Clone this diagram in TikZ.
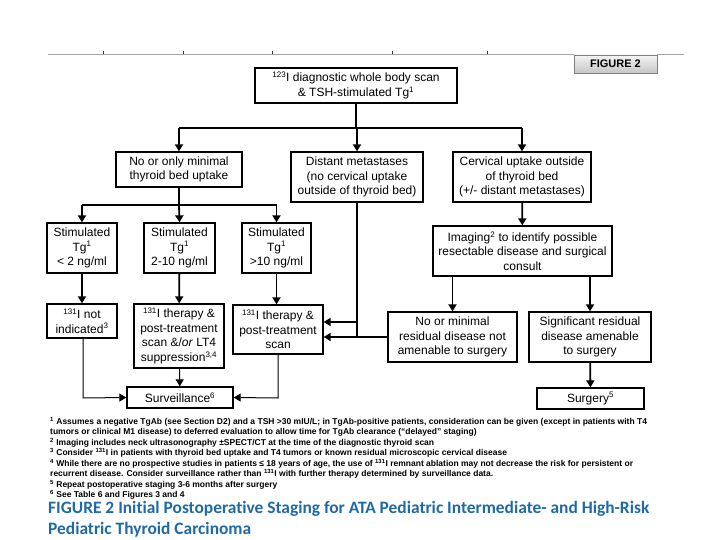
\documentclass[tikz,border=0pt]{standalone}
\usepackage{fontspec}
\setmainfont{Liberation Sans}
\newfontfamily\capfont[Ligatures=NoCommon]{Carlito}
\usetikzlibrary{arrows.meta}
\definecolor{captionblue}{RGB}{31,106,165}

\begin{document}
\begin{tikzpicture}[x=1pt,y=-1pt,
  box/.style={draw, line width=1.3pt, align=center, inner sep=1pt,
    font=\fontsize{12}{14.5}\selectfont},
  line/.style={line width=1.8pt},
  arr/.style={line width=1.8pt, -{Triangle[length=7pt,width=8pt]}},
  thinarr/.style={line width=1pt, -{Triangle[length=7pt,width=8pt]}},
  note/.style={anchor=base west, inner sep=0pt, font=\fontsize{8.5}{10}\bfseries},
  capline/.style={anchor=base west, inner sep=0pt, text=captionblue,
    font=\capfont\fontsize{17.4}{21}\bfseries}]
  \useasboundingbox (0,0) rectangle (720,540);

  % Page rule and ticks
  \draw[gray!70, line width=0.8pt] (48,54) -- (684,54);
  \foreach \tx in {103,183,272,392,487}
    \draw[black!80, line width=0.9pt] (\tx,51) -- (\tx,54);

  % Figure label
  \node[draw=gray, line width=0.8pt, top color=gray!8, bottom color=gray!45,
    minimum width=83pt, minimum height=18pt, inner sep=0pt,
    font=\fontsize{11}{12}\bfseries] (figlabel) at (615.5,64) {FIGURE 2};

  % First row
  \node[box, minimum width=202pt, minimum height=35pt] (wbs) at (356,85.5)
    {\textsuperscript{123}I diagnostic whole body scan\\ \& TSH-stimulated Tg\textsuperscript{1}};
  \node[box, minimum width=126pt, minimum height=35pt] (bedup) at (179,169.5)
    {No or only minimal\\ thyroid bed uptake};
  \node[box, minimum width=132pt, minimum height=50pt] (distant) at (357,177)
    {Distant metastases\\ (no cervical uptake\\ outside of thyroid bed)};
  \node[box, minimum width=138pt, minimum height=50pt] (cervical) at (522,177)
    {Cervical uptake outside\\ of thyroid bed\\ (+/- distant metastases)};

  % Stimulated Tg
  \node[box, minimum width=70pt, minimum height=50pt] (tglow) at (82,248)
    {Stimulated\\ Tg\textsuperscript{1}\\ {\textless} 2 ng/ml};
  \node[box, minimum width=71pt, minimum height=50pt] (tgmid) at (179.5,248)
    {Stimulated\\ Tg\textsuperscript{1}\\ 2-10 ng/ml};
  \node[box, minimum width=69pt, minimum height=50pt] (tghigh) at (276.5,248)
    {Stimulated\\ Tg\textsuperscript{1}\\ {\textgreater}10 ng/ml};

  % Therapy
  \node[box, minimum width=70pt, minimum height=34pt] (notind) at (82,321)
    {\textsuperscript{131}I not\\ indicated\textsuperscript{3}};
  \node[box, minimum width=90pt, minimum height=64pt] (thermid) at (179,336)
    {\textsuperscript{131}I therapy \&\\ post-treatment\\ scan \&/\textit{or} LT4\\ suppression\textsuperscript{3,4}};
  \node[box, minimum width=90pt, minimum height=49pt] (therhigh) at (278,329.5)
    {\textsuperscript{131}I therapy \&\\ post-treatment\\ scan};
  \node[box, minimum width=106pt, minimum height=21pt] (surv) at (180,397.5)
    {Surveillance\textsuperscript{6}};

  % Cervical branch
  \node[box, minimum width=179pt, minimum height=50pt] (imaging) at (522.5,251)
    {Imaging\textsuperscript{2} to identify possible\\ resectable disease and surgical\\ consult};
  \node[box, minimum width=129pt, minimum height=50pt] (resid) at (452.5,337)
    {No or minimal\\ residual disease not\\ amenable to surgery};
  \node[box, minimum width=122pt, minimum height=50pt] (signif) at (590,337)
    {Significant residual\\ disease amenable\\ to surgery};
  \node[box, minimum width=107pt, minimum height=21pt] (surgery) at (590.5,398.5)
    {Surgery\textsuperscript{5}};

  % Junctions
  \coordinate (busA) at (357,128);
  \coordinate (busB) at (179,205);
  \coordinate (joinC) at (357,322);
  \coordinate (survlow) at (83,398);
  \coordinate (survhigh) at (278,398);

  % Connectors from the scan
  \draw[line] (wbs.south) -- (wbs.south |- busA);
  \draw[line] (bedup.north |- busA) -- (cervical.north |- busA);
  \draw[arr] (bedup.north |- busA) -- (bedup.north);
  \draw[arr] (busA) -- (distant.north);
  \draw[arr] (cervical.north |- busA) -- (cervical.north);

  % Thyroid bed uptake
  \draw[line] (bedup.south) -- (busB);
  \draw[line] (tglow.north |- busB) -- (tghigh.north |- busB);
  \draw[arr] (tglow.north |- busB) -- (tglow.north);
  \draw[arr] (busB) -- (tgmid.north);
  \draw[arr] (tghigh.north |- busB) -- (tghigh.north);
  \draw[arr] (tglow) -- (notind);
  \draw[arr] (tgmid) -- (thermid);
  \draw[arr] (tghigh.south) -- (tghigh.south |- therhigh.north);

  % To surveillance
  \draw[thinarr] (notind.south -| survlow) -- (survlow) -- (surv.west);
  \draw[thinarr] (thermid) -- (surv);
  \draw[thinarr] (therhigh.south) -- (survhigh) -- (surv.east);

  % Distant metastases and residual disease
  \draw[line] (distant.south) -- (distant.south |- resid.west);
  \draw[arr] (joinC) -- (joinC -| therhigh.east);
  \draw[arr] (resid.west) -- (resid.west -| therhigh.east);

  % Cervical uptake
  \draw[arr] (cervical) -- (imaging);
  \draw[arr] (imaging.south -| resid) -- (resid.north);
  \draw[arr] (imaging.south -| signif) -- (signif.north);
  \draw[arr] (signif) -- (surgery);

  % Footnotes
  \node[note] (fnA) at (50,424) {\textsuperscript{1} Assumes a negative TgAb (see Section D2) and a TSH {\textgreater}30 mIU/L; in TgAb-positive patients, consideration can be given (except in patients with T4};
  \node[note] (fnB) at (50,434.5) {tumors or clinical M1 disease) to deferred evaluation to allow time for TgAb clearance (``delayed'' staging)};
  \node[note] (fnC) at (50,445) {\textsuperscript{2} Imaging includes neck ultrasonography ±SPECT/CT at the time of the diagnostic thyroid scan};
  \node[note] (fnD) at (50,455.5) {\textsuperscript{3} Consider \textsuperscript{131}I in patients with thyroid bed uptake and T4 tumors or known residual microscopic cervical disease};
  \node[note] (fnE) at (50,466) {\textsuperscript{4} While there are no prospective studies in patients ≤ 18 years of age, the use of \textsuperscript{131}I remnant ablation may not decrease the risk for persistent or};
  \node[note] (fnF) at (50,476.5) {recurrent disease. Consider surveillance rather than \textsuperscript{131}I with further therapy determined by surveillance data.};
  \node[note] (fnG) at (50,487) {\textsuperscript{5} Repeat postoperative staging 3-6 months after surgery};
  \node[note] (fnH) at (50,497.5) {\textsuperscript{6} See Table 6 and Figures 3 and 4};

  % Caption
  \node[capline] (capA) at (48,513) {FIGURE 2 Initial Postoperative Staging for ATA Pediatric Intermediate- and High-Risk};
  \node[capline] (capB) at (48,534) {Pediatric Thyroid Carcinoma};
\end{tikzpicture}
\end{document}
